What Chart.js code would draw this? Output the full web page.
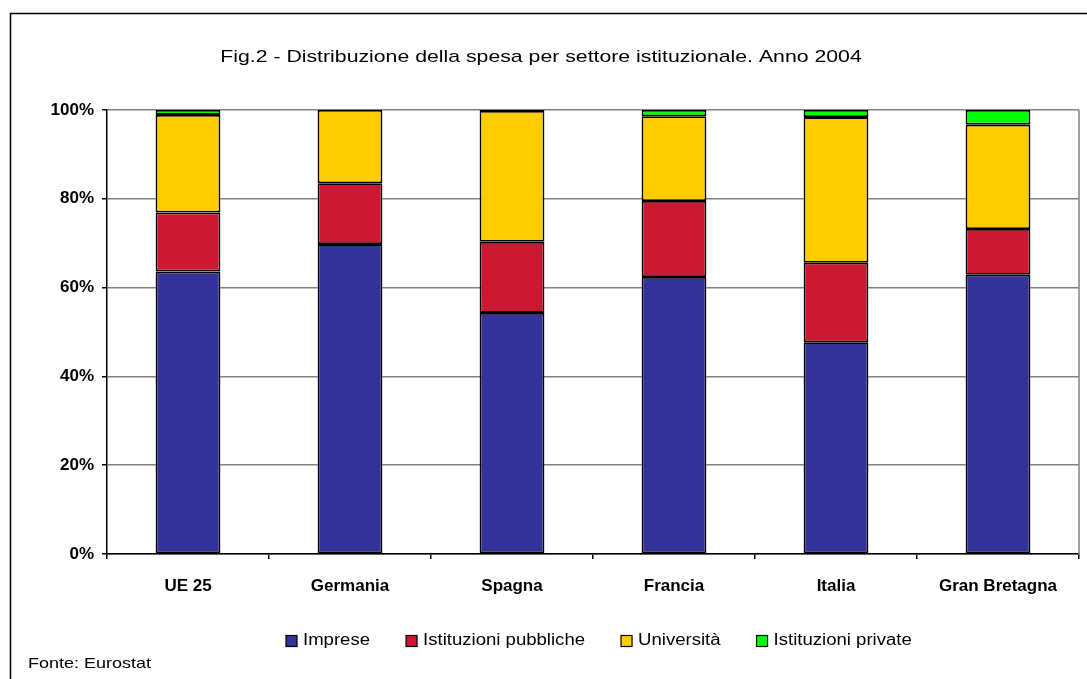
<!DOCTYPE html>
<html>
<head>
<meta charset="utf-8">
<script src="https://cdn.jsdelivr.net/npm/chart.js@4/dist/chart.umd.min.js"></script>
<style>
  html, body { margin: 0; padding: 0; background: #fff; }
  #wrap { width: 1087px; height: 679px; position: relative; }
</style>
</head>
<body>
<div id="wrap"><canvas id="spesa"></canvas></div>
<script>
const paesi = ["UE 25", "Germania", "Spagna", "Francia", "Italia", "Gran Bretagna"];

// quote percentuali per settore
const imprese = [63.6, 69.8, 54.3, 62.4, 47.7, 62.9];
const istPubbliche = [13.3, 13.7, 16.0, 17.1, 17.9, 10.3];
const universita = [22.0, 16.5, 29.5, 19.1, 32.8, 23.5];
const istPrivate = [1.1, 0.0, 0.2, 1.4, 1.6, 3.3];

const titolo = "Fig.2 - Distribuzione della spesa per settore istituzionale. Anno 2004";
const fonte = "Fonte: Eurostat";

const FONT = "'Liberation Sans', Arial, sans-serif";

// testo allargato in orizzontale
function testoLargo(ctx, txt, x, y, sx, align) {
    ctx.save();
    ctx.translate(x, y);
    ctx.scale(sx, 1);
    ctx.textAlign = align;
    ctx.fillText(txt, 0, 0);
    ctx.restore();
}

const cornice = {
    id: 'cornice',
    afterDraw: (chart) => {
        const ctx = chart.ctx;
        const area = chart.chartArea;
        ctx.save();
        // bordo esterno
        ctx.strokeStyle = '#000';
        ctx.lineWidth = 1.5;
        ctx.strokeRect(10.5, 13.5, 1200, 800);
        // lato destro dell'area del grafico
        ctx.strokeStyle = '#808080';
        ctx.beginPath();
        ctx.moveTo(area.right, area.top);
        ctx.lineTo(area.right, area.bottom);
        ctx.stroke();
        // titolo e fonte
        ctx.fillStyle = '#000';
        ctx.textBaseline = 'middle';
        ctx.font = "17px " + FONT;
        testoLargo(ctx, titolo, 541, 57, 1.25, 'center');
        ctx.font = "15px " + FONT;
        testoLargo(ctx, fonte, 28, 664, 1.2, 'left');

        // legenda
        ctx.font = "16px " + FONT;
        const sx = 1.16, box = 11;
        let x = 286;
        const y = 641;
        chart.data.datasets.forEach((ds) => {
            ctx.fillStyle = ds.backgroundColor;
            ctx.fillRect(x, y - box / 2, box, box);
            ctx.strokeStyle = '#000';
            ctx.lineWidth = 1.2;
            ctx.strokeRect(x, y - box / 2, box, box);
            ctx.fillStyle = '#000';
            testoLargo(ctx, ds.label, x + box + 6, y, sx, 'left');
            x += box + 6 + ctx.measureText(ds.label).width * sx + 36;
        });
        ctx.restore();
    }
};

const serie = (label, data, color) => ({
    label: label,
    data: data,
    backgroundColor: color,
    borderColor: '#000',
    borderWidth: 1.8,
    borderSkipped: false,
    barPercentage: 0.4,
    categoryPercentage: 1.0
});

new Chart(document.getElementById("spesa"), {
    type: "bar",
    data: {
        labels: paesi,
        datasets: [
            serie("Imprese", imprese, "#333399"),
            serie("Istituzioni pubbliche", istPubbliche, "#CC1933"),
            serie("Università", universita, "#FFCC00"),
            serie("Istituzioni private", istPrivate, "#00FF00")
        ]
    },
    options: {
        responsive: true,
        maintainAspectRatio: false,
        animation: false,
        layout: { padding: { left: 10, top: 110, right: 8, bottom: 0 } },
        scales: {
            x: {
                stacked: true,
                afterFit: (scale) => { scale.height = 125; },
                border: { color: '#000', width: 1.5 },
                grid: { drawOnChartArea: false, tickLength: 5, tickColor: '#000', lineWidth: 1.5 },
                ticks: { color: '#000', padding: 17, font: { family: FONT, size: 17, weight: 'bold' } }
            },
            y: {
                stacked: true,
                min: 0,
                max: 100,
                afterFit: (scale) => { scale.width = 97; },
                border: { color: '#000', width: 1.5 },
                grid: { color: '#808080', lineWidth: 1.5, tickLength: 5, tickColor: '#000' },
                ticks: {
                    stepSize: 20,
                    color: '#000',
                    padding: 8,
                    font: { family: FONT, size: 17, weight: 'bold' },
                    callback: (v) => v + "%"
                }
            }
        },
        plugins: {
            tooltip: { enabled: false },
            title: { display: false },
            legend: { display: false }
        }
    },
    plugins: [cornice]
});
</script>
</body>
</html>
